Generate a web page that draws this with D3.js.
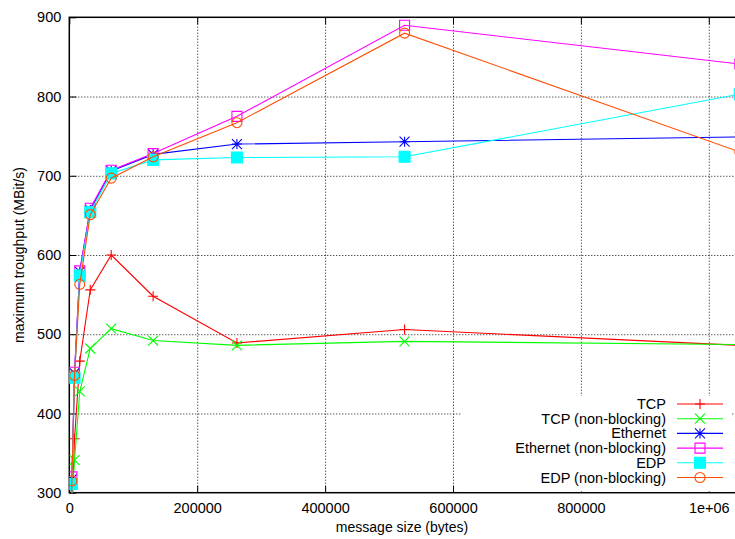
<!DOCTYPE html>
<html>
<head>
<meta charset="utf-8">
<script src="https://cdn.jsdelivr.net/npm/d3@7"></script>
<style>
  body { margin: 0; background: #fff; }
  svg { display: block; font-family: "Liberation Sans", Arial, sans-serif; }
</style>
</head>
<body>
<svg width="735" height="539"></svg>
<script>
// message sizes (bytes)
const sizes = [2048, 4096, 8192, 16384, 32768, 65536, 131072, 262144, 524288, 1048576];

// throughput values (MBit/s) per series
const tcp      = [180, 270, 368, 466, 556, 600, 548, 489, 506, 486];
const tcpNb    = [200, 290, 341, 428, 482, 507, 492, 486, 491, 487];
const eth      = [190, 317, 451, 579, 657, 706, 727, 740, 743, 749];
const ethNb    = [195, 320, 452, 580, 659, 707, 728, 775, 890, 841];
const edp      = [185, 311, 445, 574, 654, 703, 720, 723, 724, 803];
const edpNb    = [190, 315, 448, 563, 651, 697, 724, 767, 880, 730];

const seriesNames = ["TCP", "TCP (non-blocking)", "Ethernet", "Ethernet (non-blocking)", "EDP", "EDP (non-blocking)"];
const seriesVals = [tcp, tcpNb, eth, ethNb, edp, edpNb];
const colors = ["#ff0000", "#00ff00", "#0000ff", "#ff00ff", "#00ffff", "#ff4d00"];
const markers = ["plus", "cross", "star", "box", "boxfill", "circle"];

const xTicks = [0, 200000, 400000, 600000, 800000, 1000000];
const yTicks = [300, 400, 500, 600, 700, 800, 900];

const svg = d3.select("svg");
const m = {left: 69.3, top: 17.3, bottom: 492.7};
const xEnd = 69.3 + 127.9 * 5.5;

const x = d3.scaleLinear().domain([0, 1100000]).range([m.left, xEnd]);
const y = d3.scaleLinear().domain([300, 900]).range([m.bottom, m.top]);
const pw = xEnd - m.left, ph = m.bottom - m.top;

svg.append("rect").attr("width", 735).attr("height", 539).attr("fill", "#fff");

// grid
const grid = svg.append("g").attr("class", "grid");
grid.append("g")
    .attr("transform", `translate(0,${m.bottom})`)
    .call(d3.axisBottom(x).tickValues(xTicks.slice(1)).tickSize(-ph).tickFormat(""));
grid.append("g")
    .attr("transform", `translate(${m.left},0)`)
    .call(d3.axisLeft(y).tickValues(yTicks.slice(1, -1)).tickSize(-pw).tickFormat(""));
grid.selectAll(".domain").remove();
grid.selectAll("line").attr("stroke", "#111").attr("stroke-width", 1).attr("stroke-dasharray", "1,2");

// axes
const fmtX = d => d === 1000000 ? "1e+06" : d3.format("d")(d);
const xAx = svg.append("g")
    .attr("transform", `translate(0,${m.bottom})`)
    .call(d3.axisBottom(x).tickValues(xTicks).tickSize(-7).tickPadding(10).tickFormat(fmtX));
const xTop = svg.append("g")
    .attr("transform", `translate(0,${m.top})`)
    .call(d3.axisTop(x).tickValues(xTicks).tickSize(-7).tickFormat(""));
const yAx = svg.append("g")
    .attr("transform", `translate(${m.left},0)`)
    .call(d3.axisLeft(y).tickValues(yTicks).tickSize(-7).tickPadding(8));

[xAx, xTop, yAx].forEach(a => {
    a.select(".domain").remove();
    a.selectAll("line").attr("stroke", "#000").attr("stroke-width", 1);
    a.selectAll("text").attr("fill", "#000").style("font-size", "14.5px");
});

// frame
svg.append("rect")
    .attr("x", m.left).attr("y", m.top)
    .attr("width", pw).attr("height", ph)
    .attr("fill", "none").attr("stroke", "#000").attr("stroke-width", 1.5);

// clip
svg.append("clipPath").attr("id", "clip")
    .append("rect").attr("x", m.left).attr("y", m.top).attr("width", pw).attr("height", ph);

function markerPath(type, s) {
    switch (type) {
        case "plus": return `M${-s},0H${s}M0,${-s}V${s}`;
        case "cross": return `M${-s},${-s}L${s},${s}M${-s},${s}L${s},${-s}`;
        case "star": return `M${-s},0H${s}M0,${-s}V${s}M${-s},${-s}L${s},${s}M${-s},${s}L${s},${-s}`;
        case "box": return `M${-s},${-s}H${s}V${s}H${-s}Z`;
        case "boxfill": return `M${-s},${-s}H${s}V${s}H${-s}Z`;
        case "circle": return `M${s},0A${s},${s} 0 1,1 ${-s},0A${s},${s} 0 1,1 ${s},0Z`;
    }
}

const line = d3.line().x(d => x(d[0])).y(d => y(d[1]));
const plot = svg.append("g").attr("clip-path", "url(#clip)");

seriesVals.forEach((vals, i) => {
    const pts = sizes.map((s, k) => [s, vals[k]]);
    const g = plot.append("g");
    g.append("path")
        .attr("d", line(pts))
        .attr("fill", "none")
        .attr("stroke", colors[i])
        .attr("stroke-width", 1.1);
    g.selectAll("path.mk")
        .data(pts.filter(p => p[1] >= 300))
        .enter()
        .append("path")
        .attr("class", "mk")
        .attr("transform", d => `translate(${x(d[0])},${y(d[1])})`)
        .attr("d", markerPath(markers[i], markers[i] === "boxfill" ? 5.5 : 5))
        .attr("fill", markers[i] === "boxfill" ? colors[i] : "none")
        .attr("stroke", colors[i])
        .attr("stroke-width", 1.1);
});

// key (opaque)
const key = svg.append("g");
key.append("rect").attr("x", 462).attr("y", 396).attr("width", 270).attr("height", 95.5).attr("fill", "#fff");
seriesNames.forEach((n, i) => {
    const cy = 404 + i * 14.7;
    key.append("text")
        .attr("x", 666).attr("y", cy + 5)
        .attr("text-anchor", "end")
        .style("font-size", "14.5px")
        .text(n);
    key.append("line")
        .attr("x1", 677).attr("x2", 723).attr("y1", cy).attr("y2", cy)
        .attr("stroke", colors[i]).attr("stroke-width", 1.1);
    key.append("path")
        .attr("transform", `translate(700,${cy})`)
        .attr("d", markerPath(markers[i], markers[i] === "boxfill" ? 5.5 : 5))
        .attr("fill", markers[i] === "boxfill" ? colors[i] : "none")
        .attr("stroke", colors[i]).attr("stroke-width", 1.1);
});

// axis titles
svg.append("text")
    .attr("x", 402).attr("y", 532)
    .attr("text-anchor", "middle")
    .style("font-size", "14px")
    .text("message size (bytes)");
svg.append("text")
    .attr("transform", `translate(24,255) rotate(-90)`)
    .attr("text-anchor", "middle")
    .style("font-size", "14px")
    .text("maximum troughput (MBit/s)");
</script>
</body>
</html>
